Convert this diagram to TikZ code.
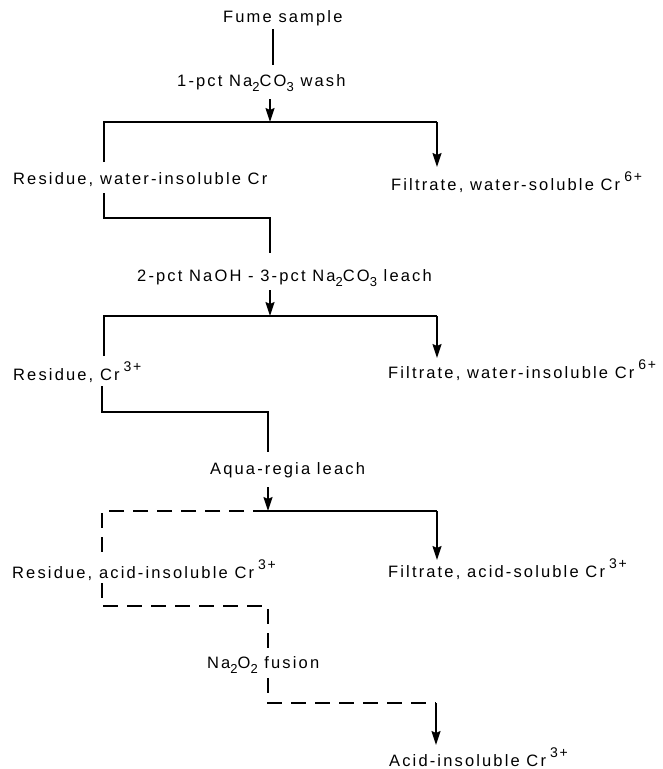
\documentclass[tikz,border=0pt]{standalone}
\usepackage{fontspec}
\setmainfont[LetterSpace=13]{Liberation Sans}
\usetikzlibrary{arrows.meta}
\newcommand{\mysub}[1]{\raisebox{-0.5ex}{\fontsize{13}{12}\selectfont #1}}
\newcommand{\mysup}[1]{\hspace{4pt}\raisebox{1.05ex}{\fontsize{14}{12}\selectfont #1}}
\begin{document}
\begin{tikzpicture}[x=1pt,y=-1pt,
  lbl/.style={inner sep=0pt, anchor=west, font=\fontsize{16.5}{18}\selectfont},
  ln/.style={line width=1.5pt},
  arr/.style={ln, -{Stealth[length=14pt,width=9pt,inset=2pt]}},
  dsh/.style={ln, dash pattern=on 15pt off 9pt}]
\useasboundingbox (0,0) rectangle (663,769);
\fill[white] (0,0) rectangle (663,769);
% labels
\node[lbl] (fume) at (223,18) {Fume sample};
\node[lbl] (wash) at (177,83) {1-pct Na\mysub{2}CO\mysub{3} wash};
\node[lbl] (res1) at (13,180) {Residue, water-insoluble Cr};
\node[lbl] (fil1) at (391,182) {Filtrate, water-soluble Cr\mysup{6+}};
\node[lbl] (leach) at (137,278) {2-pct NaOH - 3-pct Na\mysub{2}CO\mysub{3} leach};
\node[lbl] (res2) at (13,372) {Residue, Cr\mysup{3+}};
\node[lbl] (fil2) at (388,370) {Filtrate, water-insoluble Cr\mysup{6+}};
\node[lbl] (aqua) at (210,470) {Aqua-regia leach};
\node[lbl] (res3) at (12,570) {Residue, acid-insoluble Cr\mysup{3+}};
\node[lbl] (fil3) at (388,569) {Filtrate, acid-soluble Cr\mysup{3+}};
\node[lbl] (fus) at (207,665) {Na\mysub{2}O\mysub{2} fusion};
\node[lbl] (acid) at (389,757) {Acid-insoluble Cr\mysup{3+}};
% junction coordinates
\coordinate (a0) at (273,29);
\coordinate (a1) at (273,65);
\coordinate (b0) at (270,99);
\coordinate (b1) at (270,122);
\coordinate (bl) at (104,122);
\coordinate (bl1) at (104,162);
\coordinate (br) at (437,122);
\coordinate (br1) at (437,167);
\coordinate (c0) at (104,193);
\coordinate (c1) at (104,218);
\coordinate (c2) at (270,218);
\coordinate (c3) at (270,253);
\coordinate (d0) at (270,290);
\coordinate (d1) at (270,316);
\coordinate (dl) at (104,316);
\coordinate (dl1) at (104,356);
\coordinate (dr) at (437,316);
\coordinate (dr1) at (437,358);
\coordinate (e0) at (102,386);
\coordinate (e1) at (102,412);
\coordinate (e2) at (268,412);
\coordinate (e3) at (268,452);
\coordinate (f0) at (268,487);
\coordinate (f1) at (268,511);
\coordinate (fl) at (102,511);
\coordinate (fl1) at (102,558);
\coordinate (fr) at (437,511);
\coordinate (fr1) at (437,560);
\coordinate (g0) at (102,583);
\coordinate (g1) at (102,606);
\coordinate (g2) at (268,606);
\coordinate (g3) at (268,652);
\coordinate (h0) at (268,678);
\coordinate (h1) at (268,703);
\coordinate (h2) at (436,703);
\coordinate (h3) at (436,745);
% connectors
\draw[ln] (a0) -- (a1);
\draw[arr] (b0) -- (b1);
\draw[ln] (bl1) -- (bl) -- (br);
\draw[arr] (br) -- (br1);
\draw[ln] (c0) -- (c1) -- (c2) -- (c3);
\draw[arr] (d0) -- (d1);
\draw[ln] (dl1) -- (dl) -- (dr);
\draw[arr] (dr) -- (dr1);
\draw[ln] (e0) -- (e1) -- (e2) -- (e3);
\draw[arr] (f0) -- (f1);
\draw[ln] (f1) -- (fr);
\draw[arr] (fr) -- (fr1);
\draw[dsh] (f1) -- (fl) -- (fl1);
\draw[dsh] (g0) -- (g1) -- (g2) -- (g3);
\draw[dsh] (h0) -- (h1) -- (h2);
\draw[arr] (h2) -- (h3);
\end{tikzpicture}
\end{document}
